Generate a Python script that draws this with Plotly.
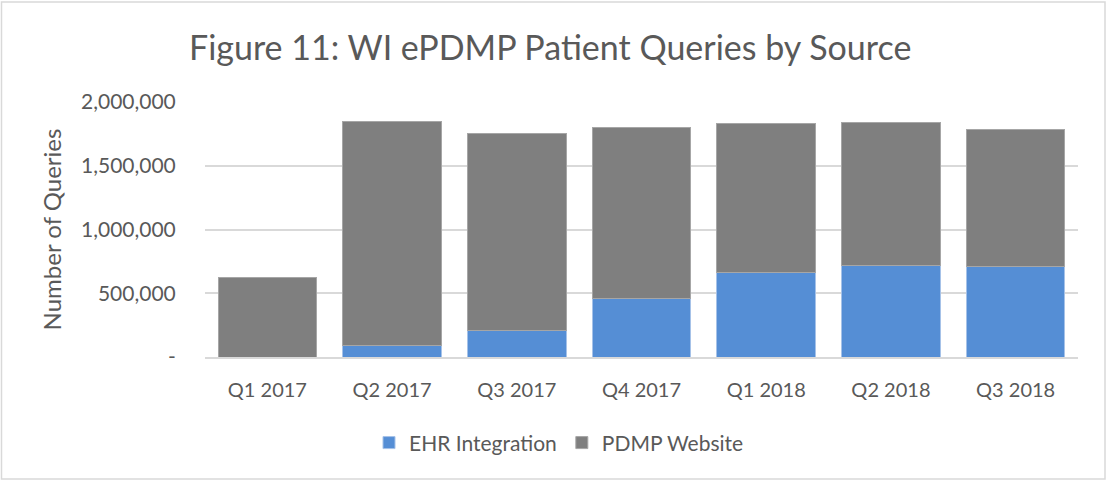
import plotly.graph_objects as go

quarters = ["Q1 2017", "Q2 2017", "Q3 2017", "Q4 2017", "Q1 2018", "Q2 2018", "Q3 2018"]
ehr_integration = [0, 91000, 208000, 459000, 663000, 721000, 710000]
pdmp_website = [620000, 1760000, 1547000, 1343000, 1165000, 1120000, 1073000]
y_tick_vals = [0, 500000, 1000000, 1500000, 2000000]
y_tick_text = ["-", "500,000", "1,000,000", "1,500,000", "2,000,000"]

FONT = "Lato, 'Open Sans', sans-serif"
TXT = "#595959"

fig = go.Figure()
fig.add_trace(go.Bar(x=quarters, y=ehr_integration, name="EHR Integration",
                     marker=dict(color="#558ed5", line=dict(color="#a6c2e8", width=1))))
fig.add_trace(go.Bar(x=quarters, y=pdmp_website, name="PDMP Website",
                     marker=dict(color="#7f7f7f", line=dict(color="#a6a6a6", width=1))))

fig.update_layout(
    barmode="stack",
    bargap=0.21,
    width=1107, height=481,
    margin=dict(l=205, r=29, t=102, b=124, autoexpand=False),
    paper_bgcolor="white", plot_bgcolor="white",
    font=dict(family=FONT, color=TXT, size=20),
    title=dict(text="Figure 11: WI ePDMP Patient Queries by Source",
               x=0.497, xanchor="center", y=0.9, yanchor="middle",
               font=dict(size=34, color=TXT, family=FONT)),
    legend=dict(orientation="h", x=(559 - 205) / 873, xanchor="center", y=-0.337, yanchor="middle",
                font=dict(size=21, color=TXT), traceorder="normal", itemwidth=30),
    xaxis=dict(showgrid=False, showline=True, linecolor="#d9d9d9", linewidth=1.5,
               ticks="outside", ticklen=14, tickcolor="rgba(0,0,0,0)",
               tickfont=dict(size=20, color=TXT)),
    yaxis=dict(range=[0, 2000000], tickvals=y_tick_vals, ticktext=y_tick_text,
               showgrid=True, gridcolor="#d9d9d9", gridwidth=1.5, zeroline=False,
               ticks="outside", ticklen=24, tickcolor="rgba(0,0,0,0)",
               tickfont=dict(size=21, color=TXT),
               title=dict(text="Number of Queries", font=dict(size=24, color=TXT), standoff=12)),
    shapes=[dict(type="rect", xref="paper", yref="paper",
                 x0=-203.5 / 873, x1=(1105 - 205) / 873, y0=-(479 - 357) / 255, y1=1 + 100 / 255,
                 line=dict(color="#d9d9d9", width=1.5), fillcolor="rgba(0,0,0,0)")],
)

fig.write_html("out.html", config={"displayModeBar": False},
               post_script="document.body.style.margin='0';")
